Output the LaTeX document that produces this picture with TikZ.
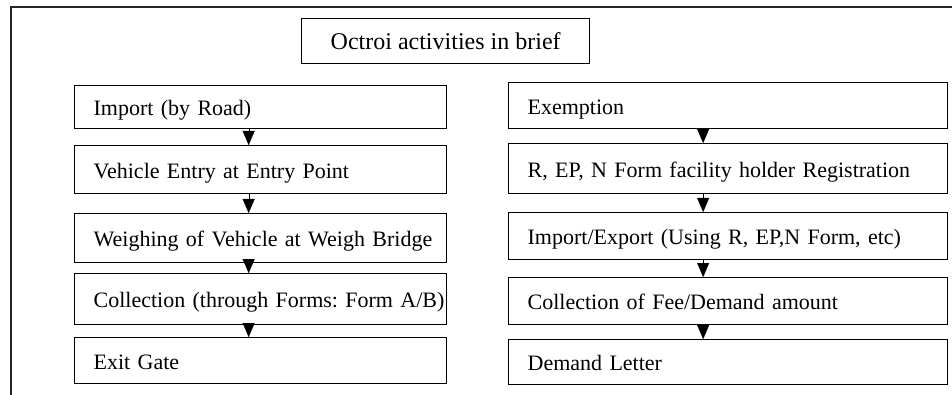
\documentclass[tikz,border=0pt]{standalone}
\usepackage{fontspec}
\setmainfont{Liberation Serif}
\usetikzlibrary{arrows.meta}
\tikzset{
  frameline/.style={draw=black!85, line width=1.4pt},
  stepbox/.style={draw=black, line width=1.3pt, rectangle, anchor=north west,
    inner xsep=0pt, inner ysep=0pt, align=left,
    text height=20.5pt, text depth=3.5pt,
    font=\fontsize{22}{24}\selectfont\frenchspacing,
    execute at begin node={\hspace*{19pt}}},
  leftbox/.style={stepbox, text width=372pt},
  rightbox/.style={stepbox, text width=439pt},
  titlebox/.style={draw=black, line width=1.3pt, rectangle, anchor=north west,
    minimum width=288pt, minimum height=45pt, inner sep=0pt, font=\fontsize{24}{26}\selectfont},
  flow/.style={line width=0.1pt, -{Triangle[width=12pt,length=14pt]}}
}
\begin{document}
\begin{tikzpicture}[x=1pt,y=-1pt]
\useasboundingbox (0,0) rectangle (952,395);
\coordinate (fb) at (11,395);
\coordinate (ft) at (11,7);
\coordinate (fr) at (952,7);
\draw[frameline] (fb) -- (ft) -- (fr);

\node[titlebox] (title) at (301,18) {Octroi activities in brief};

\node[leftbox, minimum height=43pt] (l1) at (74,85) {Import (by Road)};
\node[leftbox, minimum height=48pt] (l2) at (74,145) {Vehicle Entry at Entry Point};
\node[leftbox, minimum height=49pt] (l3) at (74,213) {Weighing of Vehicle at Weigh Bridge};
\node[leftbox, minimum height=51pt] (l4) at (74,273) {Collection (through Forms: Form A/B)};
\node[leftbox, minimum height=46pt] (l5) at (74,337) {Exit Gate};

\node[rightbox, minimum height=46pt] (r1) at (508,82) {Exemption};
\node[rightbox, minimum height=50pt] (r2) at (508,143) {R, EP, N Form facility holder Registration};
\node[rightbox, minimum height=47pt] (r3) at (508,212) {Import/Export (Using R, EP,N Form, etc)};
\node[rightbox, minimum height=47pt] (r4) at (508,277) {Collection of Fee/Demand amount};
\node[rightbox, minimum height=45pt] (r5) at (508,339) {Demand Letter};

\foreach \a/\b in {l1/l2,l2/l3,l3/l4,l4/l5}{
  \draw[flow] ([xshift=-12pt]\a.south) -- ([xshift=-12pt]\b.north);
}
\foreach \a/\b in {r1/r2,r2/r3,r3/r4,r4/r5}{
  \draw[flow] ([xshift=-25pt]\a.south) -- ([xshift=-25pt]\b.north);
}
\end{tikzpicture}
\end{document}
